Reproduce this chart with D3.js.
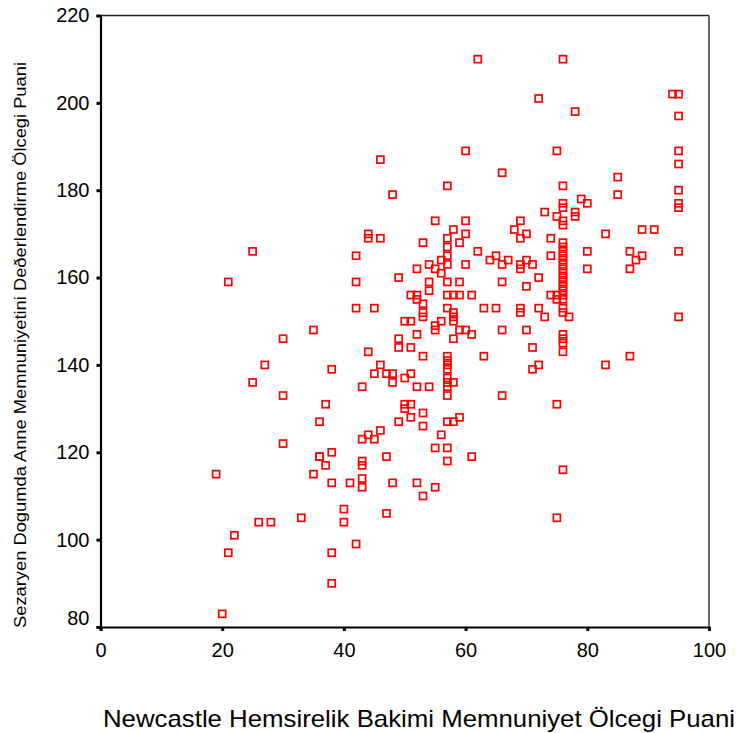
<!DOCTYPE html>
<html>
<head>
<meta charset="utf-8">
<script src="https://cdn.jsdelivr.net/npm/d3@7"></script>
<style>
    body { margin: 0; background: #fff; }
    text { font-family: "Liberation Sans", Arial, sans-serif; fill: #000; }
</style>
</head>
<body>
<div id="chart"></div>
<script>
// Newcastle score (x) and caesarean satisfaction score (y), one entry per mother
const nursingScore = [
    19, 21, 22, 21, 20,
    46, 44, 44, 46, 25, 42, 42, 42, 45, 35, 30, 44, 27, 38, 46, 45, 25,
    43, 30, 37, 36, 46, 44, 43, 45, 30, 38, 36, 36, 37, 43, 43, 35, 43, 38, 41, 43, 40, 26, 28, 33, 40, 42, 38, 38,
    62, 60, 66, 57, 48, 55, 60, 58, 60, 68, 57, 53, 59, 57, 62, 57, 57, 65, 64, 67, 66, 56, 54, 60, 55, 52, 56, 49,
    54, 57, 59, 66, 54, 51, 52, 57, 58, 59, 61, 52, 53, 57, 58, 63, 65, 53, 53, 58, 58, 50, 51, 56, 55, 55, 59, 60,
    61, 52, 66, 58, 49, 49, 51, 53, 63, 57, 57, 57, 57, 47, 48, 50, 51, 57,
    48, 52, 54, 57, 58, 57, 57, 66, 50, 50, 51, 53, 51, 59, 49, 57, 58, 53, 56, 55, 57, 47, 57, 61, 48, 52, 55, 53, 47,
    76, 72, 94, 95, 78, 95, 75, 95, 95, 85, 76, 85, 95, 79, 80, 95, 95, 76, 76, 73, 78, 78, 75, 76, 76, 69, 70, 69,
    74, 83, 89, 91, 76, 76, 76, 76, 76, 76, 76, 76, 76, 76, 76, 76, 74, 80, 80, 87, 88, 89, 87, 95, 70, 71, 69, 69,
    72, 70, 76, 76, 76, 76, 74, 75, 75, 69, 69, 72, 73, 77, 95, 70, 71, 76, 76, 76, 76, 87, 72, 71, 83,
    75, 76, 75
];
const satisfactionScore = [
    115, 159, 101, 97, 83,
    187, 170, 169, 169, 166, 165, 159, 153, 153, 148, 146, 143, 140, 139, 140, 138, 136,
    135, 133, 131, 127, 125, 124, 123, 123, 122, 120, 119, 119, 117, 118, 117, 115, 114, 113, 113, 112, 107, 104, 104, 105, 104, 99, 97, 90,
    210, 189, 184, 181, 179, 173, 173, 171, 170, 171, 169, 168, 168, 167, 166, 165, 163, 165, 164, 164, 163, 164, 163, 163, 162, 162, 161, 160,
    159, 159, 159, 159, 157, 156, 156, 156, 156, 156, 156, 155, 154, 153, 152, 153, 153, 152, 151, 151, 150, 150, 150, 150, 149, 148, 148, 148,
    147, 147, 148, 146, 146, 144, 144, 142, 142, 142, 141, 140, 139, 138, 138, 137, 138, 137,
    136, 135, 135, 136, 136, 135, 133, 133, 131, 130, 131, 129, 128, 128, 127, 127, 127, 126, 124, 121, 121, 119, 118, 119, 113, 113, 112, 110, 106,
    210, 201, 202, 202, 198, 197, 189, 189, 186, 183, 181, 179, 180, 178, 177, 177, 176, 177, 176, 175, 175, 174, 174, 173, 172, 173, 170, 169,
    169, 170, 171, 171, 168, 167, 166, 165, 164, 163, 162, 161, 160, 159, 158, 157, 165, 166, 162, 166, 164, 165, 162, 166, 164, 163, 163, 162,
    160, 158, 156, 155, 153, 152, 156, 156, 155, 153, 152, 153, 151, 151, 151, 148, 144, 147, 146, 145, 143, 142, 140, 139, 140,
    131, 116, 105
];
const xTicks = [0, 20, 40, 60, 80, 100];
const yTicks = [80, 100, 120, 140, 160, 180, 200, 220];
const xTitle = "Newcastle Hemsirelik Bakimi Memnuniyet Ölcegi Puani";
const yTitle = "Sezaryen Dogumda Anne Memnuniyetini Deðerlendirme Ölcegi Puani";

class Scatter {
    constructor(_config, _data) {
        this.config = {
            parentElement: _config.parentElement,
            containerWidth: 736,
            containerHeight: 733,
            margin: { top: 15.5, right: 27, bottom: 106, left: 100.5 }
        };
        this.data = _data;
        this.initVis();
    }

    initVis() {
        let vis = this;
        const m = vis.config.margin;
        vis.width = vis.config.containerWidth - m.left - m.right;
        vis.height = vis.config.containerHeight - m.top - m.bottom;

        vis.root = d3.select(vis.config.parentElement).append("svg")
            .attr("width", vis.config.containerWidth)
            .attr("height", vis.config.containerHeight);

        vis.svg = vis.root.append("g")
            .attr("transform", `translate(${m.left},${m.top})`);

        vis.xScale = d3.scaleLinear().domain([0, 100]).range([0, vis.width]);
        vis.yScale = d3.scaleLinear().domain([80, 220]).range([vis.height, 0]);

        // frame: thin top/right, heavier left/bottom
        vis.svg.append("line")
            .attr("x1", 0).attr("x2", vis.width).attr("y1", 0).attr("y2", 0)
            .attr("stroke", "#222").attr("stroke-width", 1.3);
        vis.svg.append("line")
            .attr("x1", vis.width).attr("x2", vis.width).attr("y1", 0).attr("y2", vis.height)
            .attr("stroke", "#333").attr("stroke-width", 1.5);

        vis.xAxis = d3.axisBottom(vis.xScale).tickValues(xTicks).tickSize(4).tickPadding(12);
        vis.yAxis = d3.axisLeft(vis.yScale).tickValues(yTicks).tickSize(4).tickPadding(7);

        vis.xAxisG = vis.svg.append("g")
            .attr("class", "x-axis axis")
            .attr("transform", `translate(0,${vis.height})`);
        vis.yAxisG = vis.svg.append("g")
            .attr("class", "y-axis axis");

        vis.root.append("text")
            .attr("x", 419)
            .attr("y", 727)
            .attr("text-anchor", "middle")
            .attr("textLength", 632)
            .attr("lengthAdjust", "spacingAndGlyphs")
            .style("font-size", "24px")
            .text(xTitle);

        vis.root.append("text")
            .attr("transform", "translate(26,345) rotate(-90)")
            .attr("text-anchor", "middle")
            .attr("textLength", 566)
            .attr("lengthAdjust", "spacingAndGlyphs")
            .style("font-size", "17px")
            .text(yTitle);

        vis.updateVis();
    }

    updateVis() {
        let vis = this;

        vis.xAxisG.call(vis.xAxis);
        vis.yAxisG.call(vis.yAxis);

        vis.svg.selectAll(".axis path")
            .attr("stroke", "#000").attr("stroke-width", 2.2);
        vis.svg.selectAll(".axis .tick line")
            .attr("stroke", "#000").attr("stroke-width", 3);
        vis.svg.selectAll(".axis text")
            .style("font-size", "20px")
            .style("font-family", "'Liberation Sans', Arial, sans-serif");
        // lowest y label sits a little above its tick, as in the source
        vis.yAxisG.selectAll(".tick text")
            .filter(d => d === 80)
            .attr("dy", "-0.15em");

        const side = 7;
        vis.svg.selectAll(".point")
            .data(vis.data)
            .join("rect")
            .attr("class", "point")
            .attr("x", d => vis.xScale(d.x) - side / 2)
            .attr("y", d => vis.yScale(d.y) - side / 2)
            .attr("width", side)
            .attr("height", side)
            .attr("fill", "none")
            .attr("stroke", "#ff0000")
            .attr("stroke-width", 1.7);
    }
}

const points = nursingScore.map((x, i) => ({ x: x, y: satisfactionScore[i] }));
new Scatter({ parentElement: "#chart" }, points);
</script>
</body>
</html>
